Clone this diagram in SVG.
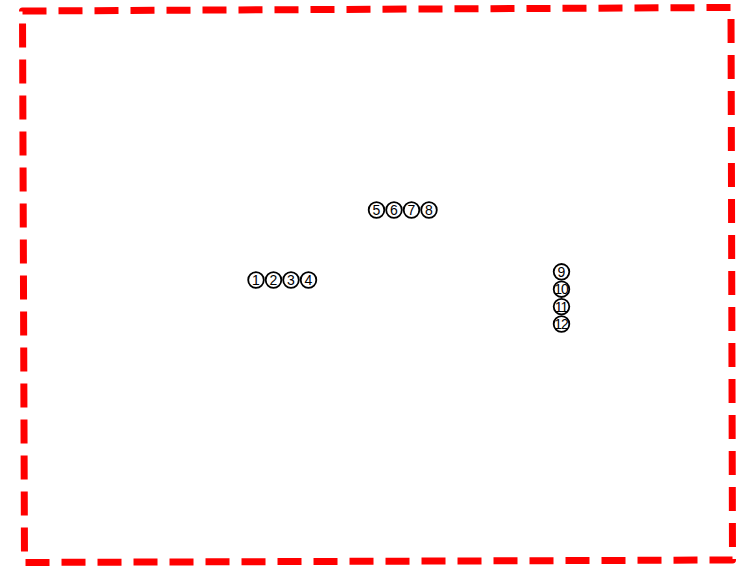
<svg xmlns="http://www.w3.org/2000/svg" width="741" height="566" viewBox="0 0 741 566">
<style>
.frame{fill:none;stroke:#ff0000;stroke-width:7;stroke-dasharray:24 12;stroke-linejoin:round}
.c{fill:none;stroke:#000;stroke-width:1.8}
.d{font-family:"Liberation Sans",Arial,sans-serif;font-size:14px;fill:#000;text-anchor:middle}
.d2{font-family:"Liberation Sans",Arial,sans-serif;font-size:14px;fill:#000;text-anchor:middle;letter-spacing:-1px}
</style>
<rect width="741" height="566" fill="#ffffff"/>
<g id="frame">
<path class="frame" d="M22.5 11 L731 7.5 L732.5 560 L24.5 562.5 Z"/>
</g>
<g id="connectors"></g>
<g id="n1"><circle class="c" cx="256" cy="280" r="7.8"/><text class="d" x="256" y="285">1</text></g>
<g id="n2"><circle class="c" cx="273.5" cy="280" r="7.8"/><text class="d" x="273.5" y="285">2</text></g>
<g id="n3"><circle class="c" cx="291" cy="280" r="7.8"/><text class="d" x="291" y="285">3</text></g>
<g id="n4"><circle class="c" cx="308.5" cy="280" r="7.8"/><text class="d" x="308.5" y="285">4</text></g>
<g id="n5"><circle class="c" cx="376.5" cy="210" r="7.8"/><text class="d" x="376.5" y="215">5</text></g>
<g id="n6"><circle class="c" cx="394" cy="210" r="7.8"/><text class="d" x="394" y="215">6</text></g>
<g id="n7"><circle class="c" cx="411.5" cy="210" r="7.8"/><text class="d" x="411.5" y="215">7</text></g>
<g id="n8"><circle class="c" cx="429" cy="210" r="7.8"/><text class="d" x="429" y="215">8</text></g>
<g id="n9"><circle class="c" cx="561.5" cy="271.8" r="7.8"/><text class="d" x="561.5" y="276.8">9</text></g>
<g id="n10"><circle class="c" cx="561.5" cy="289.2" r="7.8"/><text class="d2" x="561" y="294.2">10</text></g>
<g id="n11"><circle class="c" cx="561.5" cy="306.6" r="7.8"/><text class="d2" x="561" y="311.6">11</text></g>
<g id="n12"><circle class="c" cx="561.5" cy="324" r="7.8"/><text class="d2" x="561" y="329">12</text></g>
</svg>
